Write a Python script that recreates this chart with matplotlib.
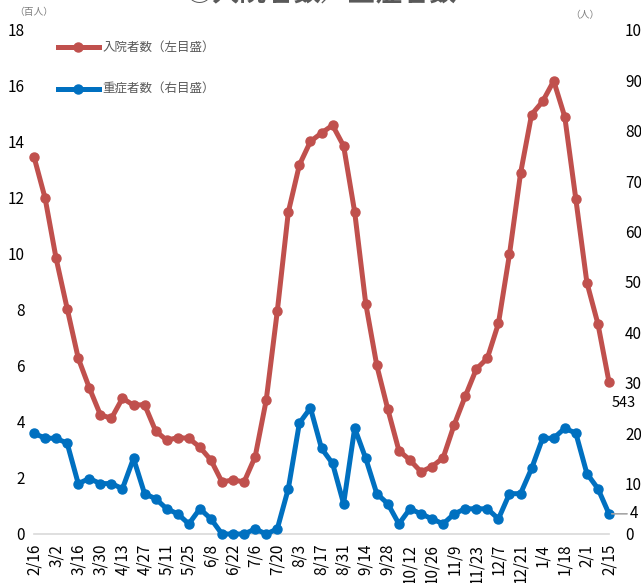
import matplotlib.pyplot as plt

plt.rcParams['font.family'] = ['Noto Sans CJK JP', 'DejaVu Sans']

# ----------------------------
# Data (weekly, 2/16 .. 2/15)
# ----------------------------

week_labels = ["2/16", "3/2", "3/16", "3/30", "4/13", "4/27", "5/11", "5/25",
               "6/8", "6/22", "7/6", "7/20", "8/3", "8/17", "8/31", "9/14",
               "9/28", "10/12", "10/26", "11/9", "11/23", "12/7", "12/21",
               "1/4", "1/18", "2/1", "2/15"]

# inpatients (hundreds of people, left axis)
inpatients = [13.47, 12.0, 9.84, 8.05, 6.28, 5.22, 4.26, 4.13, 4.85, 4.6,
              4.62, 3.68, 3.35, 3.44, 3.42, 3.1, 2.64, 1.86, 1.93, 1.86,
              2.76, 4.78, 7.95, 11.5, 13.18, 14.02, 14.32, 14.6, 13.86, 11.5,
              8.23, 6.02, 4.45, 2.98, 2.64, 2.22, 2.41, 2.72, 3.9, 4.92,
              5.89, 6.28, 7.52, 9.99, 12.88, 14.98, 15.45, 16.18, 14.9, 11.96,
              8.98, 7.5, 5.43]

# severe cases (people, right axis)
severe = [20, 19, 19, 18, 10, 11, 10, 10, 9, 15,
          8, 7, 5, 4, 2, 5, 3, 0, 0, 0,
          1, 0, 1, 9, 22, 25, 17, 14, 6, 21,
          15, 8, 6, 2, 5, 4, 3, 2, 4, 5,
          5, 5, 3, 8, 8, 13, 19, 19, 21, 20,
          12, 9, 4]

RED = "#C0504D"
BLUE = "#0070C0"
GRAY = "#595959"

# ----------------------------
# Plot
# ----------------------------

fig = plt.figure(figsize=(6.41, 5.83), dpi=100)
ax = fig.add_axes([34 / 641, 49 / 583, 575 / 641, 504 / 583])
ax2 = ax.twinx()

x = list(range(len(inpatients)))

ax.plot(x, inpatients, color=RED, lw=3.6, marker="o", ms=6.5,
        label="入院者数（左目盛）", clip_on=False, zorder=3)
ax2.plot(x, severe, color=BLUE, lw=3.6, marker="o", ms=6.5,
         label="重症者数（右目盛）", clip_on=False, zorder=3)

ax.set_xlim(0, len(x) - 1)
ax.set_ylim(0, 18)
ax.set_yticks(range(0, 19, 2))
ax2.set_ylim(0, 100)
ax2.set_yticks(range(0, 101, 10))

ax.set_xticks(x[::2])
ax.set_xticklabels(week_labels, rotation=90, fontsize=11)

for a in (ax, ax2):
    for s in a.spines.values():
        s.set_visible(False)
    a.tick_params(length=0, labelsize=11)
ax.spines["bottom"].set_visible(True)
ax.spines["bottom"].set_color("#D9D9D9")
ax.spines["bottom"].set_linewidth(1.2)
ax.tick_params(axis="y", pad=6.5)
ax.tick_params(axis="x", pad=7)
ax2.tick_params(axis="y", pad=11.5)

# last-value annotations
ax.annotate(f"{inpatients[-1] * 100:.0f}", xy=(x[-1], inpatients[-1]),
            xytext=(2, -15), textcoords="offset points",
            fontsize=10.5, ha="left", va="center")
ax2.annotate(f"{severe[-1]}", xy=(x[-1], severe[-1]),
             xytext=(15, 0), textcoords="offset points",
             fontsize=11, ha="left", va="center",
             arrowprops=dict(arrowstyle="-", color="#A6A6A6", lw=1.2,
                             shrinkA=0, shrinkB=2))

# legend
h1, l1 = ax.get_legend_handles_labels()
h2, l2 = ax2.get_legend_handles_labels()
fig.legend(h1 + h2, l1 + l2, loc="upper left",
           bbox_to_anchor=(0.080, 0.940), frameon=False, fontsize=9,
           handlelength=3.3, handletextpad=0.3, labelspacing=2.3,
           borderpad=0, labelcolor=GRAY)

# unit labels and title (title is clipped at the top edge)
fig.text(14 / 641, 1 - 12 / 583, "（百人）", fontsize=7, color="#7F7F7F",
         ha="left", va="center")
fig.text(570 / 641, 1 - 15 / 583, "（人）", fontsize=7, color="#7F7F7F",
         ha="left", va="center")
fig.text(0.5, 1 - 6 / 583, "①入院者数／重症者数", fontsize=19.5,
         fontweight="bold", color=GRAY, ha="center", va="bottom")

fig.savefig("out.png", dpi=100)
